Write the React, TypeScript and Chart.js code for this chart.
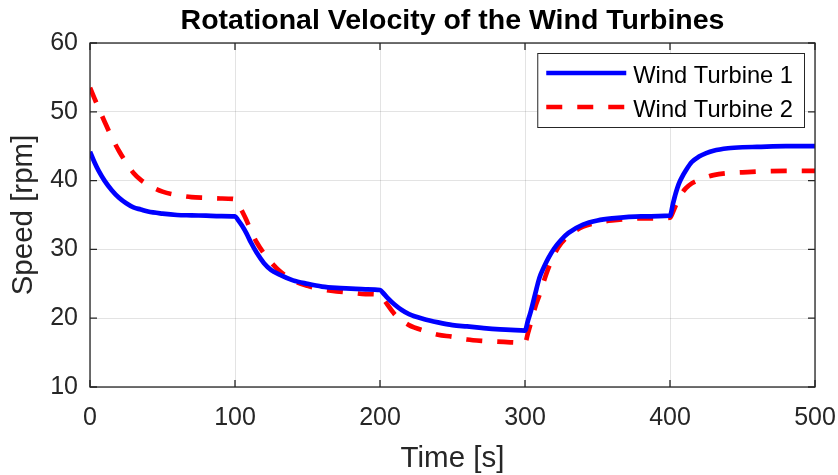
import React, { useEffect, useRef } from "react";
import { Chart, registerables } from "chart.js";

Chart.register(...registerables);

const chartTitle = "Rotational Velocity of the Wind Turbines";
const xAxisTitle = "Time [s]";
const yAxisTitle = "Speed [rpm]";
const seriesLabels = ["Wind Turbine 1", "Wind Turbine 2"];

const timeSeconds = [
  0, 3, 6, 10, 15, 20, 25, 30, 35, 40, 50, 60, 70, 80, 90, 100,
  102, 105, 108, 111, 115, 120, 125, 130, 140, 150, 160, 170, 180, 190, 200,
  202, 205, 210, 215, 220, 230, 240, 250, 260, 270, 280, 290, 300,
  302, 304, 307, 310, 313, 316, 320, 325, 330, 340, 350, 360, 380, 400,
  402, 404, 406, 408, 411, 415, 420, 425, 430, 440, 450, 460, 480, 500,
];

const turbine1Rpm = [
  44.2, 42.7, 41.4, 40.0, 38.6, 37.5, 36.7, 36.1, 35.8, 35.5, 35.2, 35.0, 34.95, 34.9, 34.85, 34.8,
  34.3, 33.4, 32.3, 31.0, 29.5, 28.0, 27.0, 26.4, 25.5, 25.0, 24.6, 24.4, 24.3, 24.2, 24.1,
  23.7, 23.0, 22.0, 21.2, 20.6, 19.9, 19.4, 19.0, 18.8, 18.6, 18.4, 18.3, 18.2,
  19.6, 21.0, 23.5, 25.9, 27.4, 28.7, 30.1, 31.4, 32.4, 33.6, 34.2, 34.5, 34.8, 34.9,
  36.6, 38.2, 39.5, 40.4, 41.5, 42.7, 43.5, 44.0, 44.35, 44.7, 44.85, 44.9, 45.0, 45.0,
];

const turbine2Rpm = [
  53.5, 52.0, 50.5, 48.6, 46.3, 44.3, 42.6, 41.1, 40.1, 39.4, 38.4, 37.9, 37.6, 37.5, 37.4, 37.3,
  36.7, 35.5, 34.2, 32.7, 31.0, 29.4, 28.1, 27.0, 25.5, 24.7, 24.2, 23.9, 23.7, 23.5, 23.4,
  22.9, 22.0, 20.6, 19.7, 19.0, 18.2, 17.6, 17.3, 16.9, 16.7, 16.6, 16.5, 16.4,
  17.8, 19.3, 21.6, 23.4, 25.4, 27.2, 29.2, 30.9, 32.0, 33.3, 33.9, 34.2, 34.5, 34.6,
  35.4, 36.4, 37.3, 38.1, 38.9, 39.6, 40.1, 40.5, 40.8, 41.1, 41.2, 41.3, 41.4, 41.4,
];

const xTickValues = [0, 100, 200, 300, 400, 500];
const yTickValues = [10, 20, 30, 40, 50, 60];

const FONT = '"Liberation Sans", Arial, Helvetica, sans-serif';
const AXIS_COLOR = "#262626";
const DASH = [16, 15];

const matlabDecor = {
  id: "matlabDecor",
  afterDraw(chart: any) {
    const { ctx, chartArea: a, scales } = chart;
    ctx.save();
    // frame
    ctx.strokeStyle = AXIS_COLOR;
    ctx.lineWidth = 1.3;
    ctx.setLineDash([]);
    ctx.strokeRect(a.left, a.top, a.right - a.left, a.bottom - a.top);
    // inward ticks
    const len = 7;
    ctx.beginPath();
    scales.x.ticks.forEach((t: any) => {
      const px = scales.x.getPixelForValue(t.value);
      ctx.moveTo(px, a.bottom);
      ctx.lineTo(px, a.bottom - len);
      ctx.moveTo(px, a.top);
      ctx.lineTo(px, a.top + len);
    });
    scales.y.ticks.forEach((t: any) => {
      const py = scales.y.getPixelForValue(t.value);
      ctx.moveTo(a.left, py);
      ctx.lineTo(a.left + len, py);
      ctx.moveTo(a.right, py);
      ctx.lineTo(a.right - len, py);
    });
    ctx.stroke();

    // title
    ctx.fillStyle = "#000";
    ctx.font = `bold 28.5px ${FONT}`;
    ctx.textAlign = "center";
    ctx.textBaseline = "alphabetic";
    ctx.fillText(chartTitle, (a.left + a.right) / 2, 29);

    // legend
    ctx.font = `23.7px ${FONT}`;
    const sample = 80;
    const padL = 9;
    const gap = 7;
    const padR = 11;
    const textW = Math.max(
      ...chart.data.datasets.map((d: any) => ctx.measureText(d.label).width)
    );
    const boxW = padL + sample + gap + textW + padR;
    const boxH = 74;
    const boxX = a.right - 11 - boxW;
    const boxY = a.top + 10;
    ctx.fillStyle = "#fff";
    ctx.fillRect(boxX, boxY, boxW, boxH);
    ctx.strokeStyle = AXIS_COLOR;
    ctx.lineWidth = 1;
    ctx.strokeRect(boxX + 0.5, boxY + 0.5, boxW, boxH);
    chart.data.datasets.forEach((d: any, i: number) => {
      const cy = boxY + 20 + i * 34;
      ctx.strokeStyle = d.borderColor;
      ctx.lineWidth = d.borderWidth;
      ctx.setLineDash(d.borderDash || []);
      ctx.beginPath();
      ctx.moveTo(boxX + padL, cy);
      ctx.lineTo(boxX + padL + sample, cy);
      ctx.stroke();
      ctx.setLineDash([]);
      ctx.fillStyle = "#000";
      ctx.textAlign = "left";
      ctx.textBaseline = "alphabetic";
      ctx.fillText(d.label, boxX + padL + sample + gap, cy + 9.5);
    });
    ctx.restore();
  },
};

export default function App() {
  const canvasRef = useRef<HTMLCanvasElement | null>(null);

  useEffect(() => {
    document.body.style.margin = "0";
    document.body.style.overflow = "hidden";
    const canvas = canvasRef.current;
    if (!canvas) return;
    const chart = new Chart(canvas, {
      type: "line",
      data: {
        datasets: [
          {
            label: seriesLabels[0],
            data: timeSeconds.map((t, i) => ({ x: t, y: turbine1Rpm[i] })),
            borderColor: "#0000ff",
            borderWidth: 4.7,
            pointRadius: 0,
            cubicInterpolationMode: "monotone",
            fill: false,
          },
          {
            label: seriesLabels[1],
            data: timeSeconds.map((t, i) => ({ x: t, y: turbine2Rpm[i] })),
            borderColor: "#ff0000",
            borderWidth: 4.7,
            borderDash: DASH,
            pointRadius: 0,
            cubicInterpolationMode: "monotone",
            fill: false,
          },
        ],
      },
      options: {
        animation: false,
        responsive: false,
        devicePixelRatio: 1,
        layout: { padding: { left: 0, top: 43, right: 23, bottom: 0 } },
        plugins: {
          legend: { display: false },
          title: { display: false },
          tooltip: { enabled: false },
        },
        scales: {
          x: {
            type: "linear",
            min: 0,
            max: 500,
            afterBuildTicks: (s: any) => {
              s.ticks = xTickValues.map((v) => ({ value: v }));
            },
            afterFit: (s: any) => {
              s.height = 88;
              s.paddingLeft = 0;
              s.paddingRight = 0;
            },
            grid: {
              color: "rgba(38,38,38,0.13)",
              lineWidth: 1,
              drawTicks: false,
            },
            border: { display: false },
            ticks: {
              color: AXIS_COLOR,
              font: { family: FONT, size: 25 },
              padding: 16,
              maxRotation: 0,
            },
            title: {
              display: true,
              text: xAxisTitle,
              color: AXIS_COLOR,
              font: { family: FONT, size: 29.5 },
              padding: { top: 0, bottom: -2 },
            },
          },
          y: {
            type: "linear",
            min: 10,
            max: 60,
            afterBuildTicks: (s: any) => {
              s.ticks = yTickValues.map((v) => ({ value: v }));
            },
            afterFit: (s: any) => {
              s.width = 90;
              s.paddingTop = 0;
              s.paddingBottom = 0;
            },
            grid: {
              color: "rgba(38,38,38,0.13)",
              lineWidth: 1,
              drawTicks: false,
            },
            border: { display: false },
            ticks: {
              color: AXIS_COLOR,
              font: { family: FONT, size: 25 },
              padding: 12,
            },
            title: {
              display: true,
              text: yAxisTitle,
              color: AXIS_COLOR,
              font: { family: FONT, size: 29.5 },
              padding: { top: 6.3, bottom: 0 },
            },
          },
        },
      },
      plugins: [matlabDecor],
    } as any);
    return () => chart.destroy();
  }, []);

  return (
    <div style={{ width: 838, height: 475 }}>
      <canvas ref={canvasRef} width={838} height={475} />
    </div>
  );
}
